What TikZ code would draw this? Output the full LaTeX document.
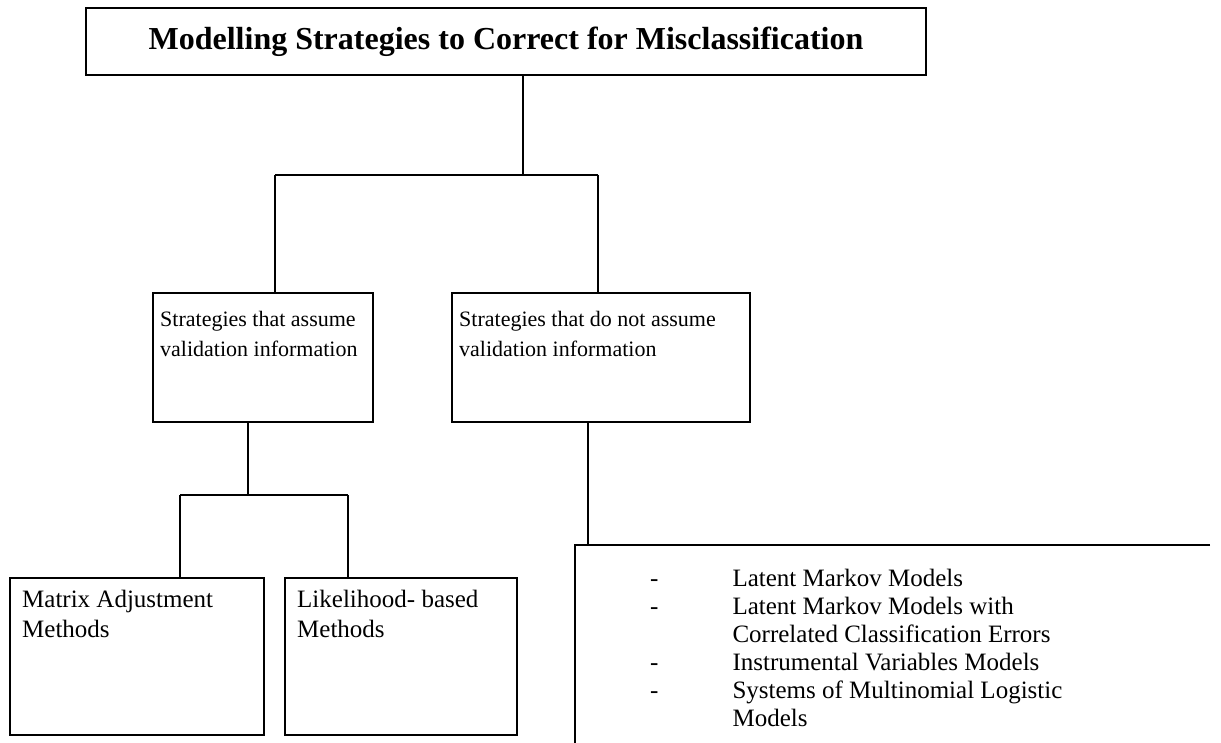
\documentclass[tikz,border=0pt]{standalone}
\usepackage{fontspec}
\setmainfont{Liberation Serif}
\usetikzlibrary{positioning}

\tikzset{
  box/.style={rectangle, draw=black, line width=1.5pt, inner sep=0pt},
  boxtext/.style={anchor=north west, align=left, inner sep=0pt,
                  font=\fontsize{22}{30}\selectfont},
  lowtext/.style={boxtext, font=\fontsize{25}{30}\selectfont},
  link/.style={draw=black, line width=1.5pt},
}

\begin{document}
\begin{tikzpicture}[x=1pt,y=-1pt]
\useasboundingbox (0,0) rectangle (1221,743);

% top
\node[box, minimum width=840pt, minimum height=67pt,
      font=\fontsize{32}{38}\selectfont\bfseries]
  (title) at (506,41.5) {Modelling Strategies to Correct for Misclassification};

% middle level
\node[box, minimum width=220pt, minimum height=129pt] (assume) at (263,357.5) {};
\node[boxtext] (assumetxt) at (160,311) {Strategies that assume\\validation information};

\node[box, minimum width=298pt, minimum height=129pt] (noassume) at (601,357.5) {};
\node[boxtext] (noassumetxt) at (459,311) {Strategies that do not assume\\validation information};

% bottom level
\node[box, minimum width=254pt, minimum height=157pt] (matrix) at (137,656.5) {};
\node[lowtext] (matrixtxt) at (22,590) {Matrix Adjustment\\Methods};

\node[box, minimum width=232pt, minimum height=157pt] (likeli) at (401,656.5) {};
\node[lowtext] (likelitxt) at (297,590) {Likelihood- based\\Methods};

% open box with the list
\coordinate (listnw) at (575,545);
\coordinate (listne) at (1210,545);
\coordinate (listsw) at (575,743);
\draw[link] (listne) -- (listnw) -- (listsw);
\node[anchor=north west, inner sep=0pt, font=\fontsize{25}{28}\selectfont]
  (listtxt) at (650,567) {%
  \begin{tabular}[t]{@{}l@{\hspace{74pt}}l@{}}
  - & Latent Markov Models\\
  - & Latent Markov Models with\\
    & Correlated Classification Errors\\
  - & Instrumental Variables Models\\
  - & Systems of Multinomial Logistic\\
    & Models
  \end{tabular}};

% connectors
\coordinate (split) at (523,175);
\coordinate (splitl) at (275,175);
\coordinate (splitr) at (598,175);
\draw[link] (title.south -| split) -- (split);
\draw[link] (splitl) -- (splitr);
\draw[link] (splitl) -- (splitl |- assume.north);
\draw[link] (splitr) -- (splitr |- noassume.north);

\coordinate (splitb) at (248,495);
\coordinate (splitbl) at (180,495);
\coordinate (splitbr) at (348,495);
\draw[link] (assume.south -| splitb) -- (splitb);
\draw[link] (splitbl) -- (splitbr);
\draw[link] (splitbl) -- (splitbl |- matrix.north);
\draw[link] (splitbr) -- (splitbr |- likeli.north);

\coordinate (drop) at (588,545);
\draw[link] (noassume.south -| drop) -- (drop);
\end{tikzpicture}
\end{document}
